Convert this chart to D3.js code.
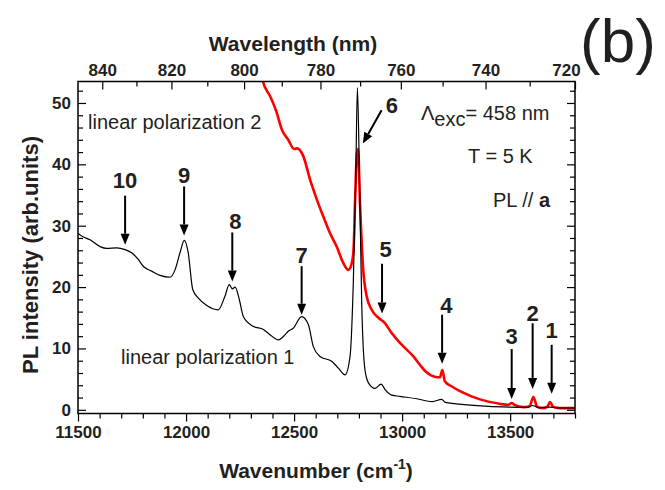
<!DOCTYPE html>
<html>
<head>
<meta charset="utf-8">
<script src="https://cdn.jsdelivr.net/npm/d3@7"></script>
<style>
  body { margin: 0; background: #fff; }
  svg text { font-family: "Liberation Sans", Arial, Helvetica, sans-serif; fill: #231f20; }
</style>
</head>
<body>
<div id="chart"></div>
<script>
// canvas
var svg_w = 665;
var svg_h = 490;
var margin = {top: 81.5, right: 90, bottom: 76.5, left: 78};

// linear polarization 1 (black) : wavenumber (cm-1), PL intensity
var pol1Wn = [11500, 11509, 11556, 11602, 11633, 11679, 11718, 11748, 11779, 11802,
  11841, 11880, 11926, 11949, 11972, 11992, 12010, 12031, 12057, 12096,
  12149, 12180, 12200, 12214, 12227, 12247, 12265, 12311, 12358, 12390,
  12427, 12460, 12473, 12496, 12535, 12566, 12589, 12620, 12674, 12705,
  12736, 12759, 12774, 12785, 12793, 12803, 12813, 12828, 12844, 12875,
  12903, 12921, 12952, 12990, 13068, 13140, 13183, 13200, 13300, 13400,
  13500, 13580, 13604, 13630, 13684, 13720, 13800];
var pol1I = [28.8, 28.5, 27.7, 26.6, 26.3, 26.4, 26.1, 25.6, 24.5, 23.4,
  22.6, 21.9, 21.6, 22.8, 25.6, 27.6, 25.6, 19.6, 18.2, 17.0,
  16.3, 18.5, 20.4, 19.7, 20.0, 17.9, 15.2, 13.6, 13.1, 12.2,
  11.4, 12.3, 12.8, 13.3, 15.2, 13.9, 10.3, 8.7, 7.9, 6.8,
  5.7, 8.7, 20.7, 37.0, 52.5, 37.0, 17.4, 6.5, 4.4, 3.5,
  4.2, 3.3, 2.4, 2.2, 1.8, 1.35, 1.7, 1.2, 0.8, 0.55,
  0.44, 0.4, 0.7, 0.35, 0.45, 0.3, 0.3];

// linear polarization 2 (red)
var pol2Wn = [12340, 12355, 12389, 12420, 12443, 12473, 12500, 12512, 12527, 12543,
  12574, 12605, 12635, 12666, 12697, 12728, 12751, 12765, 12775, 12782,
  12790, 12796, 12805, 12820, 12836, 12859, 12890, 12905, 12913, 12952,
  12990, 13052, 13083, 13110, 13150, 13175, 13186, 13198, 13230, 13270,
  13360, 13450, 13490, 13507, 13520, 13560, 13590, 13607, 13625, 13650,
  13672, 13684, 13700, 13730, 13800];
var pol2I = [56.5, 53.6, 51.1, 48.4, 45.7, 44.0, 42.5, 42.6, 42.3, 41.3,
  37.5, 34.3, 31.5, 28.8, 26.6, 23.9, 22.8, 23.6, 26.0, 33.7,
  41.5, 42.5, 33.7, 22.8, 18.5, 16.3, 15.0, 14.6, 14.4, 12.5,
  10.9, 8.7, 7.3, 6.2, 5.4, 5.3, 6.5, 4.6, 3.8, 3.0,
  1.7, 1.0, 0.8, 1.1, 0.8, 0.44, 0.6, 2.1, 0.5, 0.28,
  0.5, 1.25, 0.44, 0.28, 0.28];

// axes
var xTicks = [11500, 12000, 12500, 13000, 13500];
var yTicks = [0, 10, 20, 30, 40, 50];
var nmTicks = [840, 820, 800, 780, 760, 740, 720];

// peak arrows: label, tail (wn, I), tip (wn, I), label (wn, I)
var peakIds    = ["10", "9", "8", "7", "6", "5", "4", "3", "2", "1"];
var peakTailWn = [11718, 11991, 12214, 12535, 12905, 12907, 13185, 13507, 13604, 13692];
var peakTailI  = [34.9, 36.4, 28.9, 23.4, 48.8, 23.8, 15.5, 9.9, 14.1, 10.6];
var peakTipWn  = [11718, 11991, 12214, 12535, 12818, 12907, 13185, 13507, 13604, 13692];
var peakTipI   = [26.9, 28.4, 20.9, 15.5, 43.4, 15.7, 7.5, 1.75, 3.4, 2.6];
var peakLabWn  = [11718, 11991, 12228, 12535, 12952, 12924, 13205, 13507, 13604, 13692];
var peakLabI   = [37.5, 38.2, 30.7, 25.3, 49.6, 26.2, 17.1, 12.1, 15.8, 13.0];

var svg = d3.select("#chart").append("svg")
  .attr("width", svg_w)
  .attr("height", svg_h);

var x0 = margin.left, x1 = svg_w - margin.right;
var y0 = svg_h - margin.bottom, y1 = margin.top;

var x = d3.scaleLinear().domain([11500, 13800]).range([x0, x1]);
var y = d3.scaleLinear().domain([-0.6, 53.5]).range([y0, y1]);
// top axis: linear in 1/lambda
var xTop = d3.scaleLinear().domain([11803, 1e7 / 720]).range([x0, x1]);

svg.append("clipPath").attr("id", "clip")
  .append("rect").attr("x", x0).attr("y", y1).attr("width", x1 - x0).attr("height", y0 - y1);

var line = d3.line()
  .x(function(d) { return x(d[0]); })
  .y(function(d) { return y(d[1]); })
  .curve(d3.curveMonotoneX);

var red = pol2Wn.map(function(w, i) { return [w, pol2I[i]]; });
var black = pol1Wn.map(function(w, i) { return [w, pol1I[i]]; });

svg.append("path").datum(red)
  .attr("clip-path", "url(#clip)")
  .attr("d", line)
  .attr("fill", "none")
  .attr("stroke", "#ff0000")
  .attr("stroke-width", 2.6);

svg.append("path").datum(black)
  .attr("clip-path", "url(#clip)")
  .attr("d", line)
  .attr("fill", "none")
  .attr("stroke", "#000")
  .attr("stroke-width", 1.2);

// axes (ticks drawn via d3 axis generators)
var tickFont = "bold 17px 'Liberation Sans', Arial, sans-serif";

var gB = svg.append("g").attr("transform", "translate(0," + y0 + ")")
  .call(d3.axisBottom(x).tickValues(d3.range(11500, 13801, 100)).tickSize(8).tickFormat(""));
gB.selectAll(".tick line").attr("y2", function(d) { return d % 500 == 0 ? 8 : 5; });
var gBl = svg.append("g").attr("transform", "translate(0," + y0 + ")")
  .call(d3.axisBottom(x).tickValues(xTicks).tickSize(0).tickPadding(12).tickFormat(d3.format("d")));

var gL = svg.append("g").attr("transform", "translate(" + x0 + ",0)")
  .call(d3.axisRight(y).tickValues(d3.range(0, 54, 2)).tickFormat(""));
gL.selectAll(".tick line").attr("x2", function(d) { return d % 10 == 0 ? 8 : 5; });
var gLl = svg.append("g").attr("transform", "translate(" + x0 + ",0)")
  .call(d3.axisLeft(y).tickValues(yTicks).tickSize(0).tickPadding(7));

var gR = svg.append("g").attr("transform", "translate(" + x1 + ",0)")
  .call(d3.axisLeft(y).tickValues(d3.range(0, 54, 2)).tickFormat(""));
gR.selectAll(".tick line").attr("x2", function(d) { return d % 10 == 0 ? -8 : -5; });

var nmAll = d3.range(720, 841, 10);
var gT = svg.append("g").attr("transform", "translate(0," + y1 + ")")
  .call(d3.axisBottom(xTop).tickValues(nmAll.map(function(n) { return 1e7 / n; })).tickFormat(""));
gT.selectAll(".tick line").attr("y2", function(d) { return Math.round(1e7 / d) % 20 == 0 ? 8 : 5; });
var gTl = svg.append("g").attr("transform", "translate(0," + y1 + ")")
  .call(d3.axisTop(xTop).tickValues(nmTicks.map(function(n) { return 1e7 / n; }))
    .tickSize(0).tickPadding(6).tickFormat(function(d) { return Math.round(1e7 / d); }));
// last label sits just left of the corner
gTl.selectAll(".tick text").filter(function(d) { return Math.round(1e7 / d) == 720; }).attr("dx", -9);

[gB, gBl, gL, gLl, gR, gT, gTl].forEach(function(g) {
  g.select(".domain").remove();
  g.selectAll(".tick line").attr("stroke", "#000").attr("stroke-width", 1.2);
  g.selectAll("text").style("font", tickFont).attr("fill", "#231f20");
});

// frame
svg.append("rect")
  .attr("x", x0).attr("y", y1).attr("width", x1 - x0).attr("height", y0 - y1)
  .attr("fill", "none").attr("stroke", "#000").attr("stroke-width", 1.5);

// axis titles
svg.append("text").attr("x", 293).attr("y", 51)
  .attr("text-anchor", "middle").style("font", "bold 21px 'Liberation Sans', Arial, sans-serif")
  .text("Wavelength (nm)");

var wt = svg.append("text").attr("x", 316).attr("y", 478)
  .attr("text-anchor", "middle").style("font", "bold 21px 'Liberation Sans', Arial, sans-serif");
wt.append("tspan").text("Wavenumber (cm");
wt.append("tspan").attr("dy", -9).style("font-size", "14px").text("-1");
wt.append("tspan").attr("dy", 9).text(")");

svg.append("text")
  .attr("transform", "translate(38,255) rotate(-90)")
  .attr("text-anchor", "middle").style("font", "bold 22px 'Liberation Sans', Arial, sans-serif")
  .text("PL intensity (arb.units)");

svg.append("text").attr("x", 580).attr("y", 62)
  .style("font", "62px 'Liberation Sans', Arial, sans-serif").text("(b)");

// in-plot texts
var txtFont = "20px 'Liberation Sans', Arial, sans-serif";
svg.append("text").attr("x", 88).attr("y", 129).style("font", txtFont).text("linear polarization 2");
svg.append("text").attr("x", 121).attr("y", 364).style("font", txtFont).text("linear polarization 1");

var lam = svg.append("text").attr("x", 421).attr("y", 120).style("font", txtFont);
lam.append("tspan").text("\u039B");
lam.append("tspan").attr("dy", 6).text("exc");
lam.append("tspan").attr("dy", -6).text("= 458 nm");
svg.append("text").attr("x", 468).attr("y", 163).style("font", txtFont).text("T = 5 K");
var pl = svg.append("text").attr("x", 493).attr("y", 207).style("font", txtFont);
pl.append("tspan").text("PL // ");
pl.append("tspan").style("font-weight", "bold").text("a");

// peak arrows
var head = 11;
peakIds.forEach(function(id, i) {
  var tx = x(peakTailWn[i]), ty = y(peakTailI[i]);
  var hx = x(peakTipWn[i]), hy = y(peakTipI[i]);
  var dx = hx - tx, dy = hy - ty, len = Math.sqrt(dx * dx + dy * dy);
  var ux = dx / len, uy = dy / len;
  var bx = hx - ux * head, by = hy - uy * head;
  svg.append("line")
    .attr("x1", tx).attr("y1", ty).attr("x2", bx).attr("y2", by)
    .attr("stroke", "#000").attr("stroke-width", 2);
  svg.append("path")
    .attr("d", "M" + hx + "," + hy + "L" + (bx - uy * 4.5) + "," + (by + ux * 4.5) +
      "L" + (bx + uy * 4.5) + "," + (by - ux * 4.5) + "Z")
    .attr("fill", "#000");
  svg.append("text")
    .attr("x", x(peakLabWn[i])).attr("y", y(peakLabI[i]) + 8)
    .attr("text-anchor", "middle")
    .style("font", "bold 22px 'Liberation Sans', Arial, sans-serif")
    .text(id);
});
</script>
</body>
</html>
